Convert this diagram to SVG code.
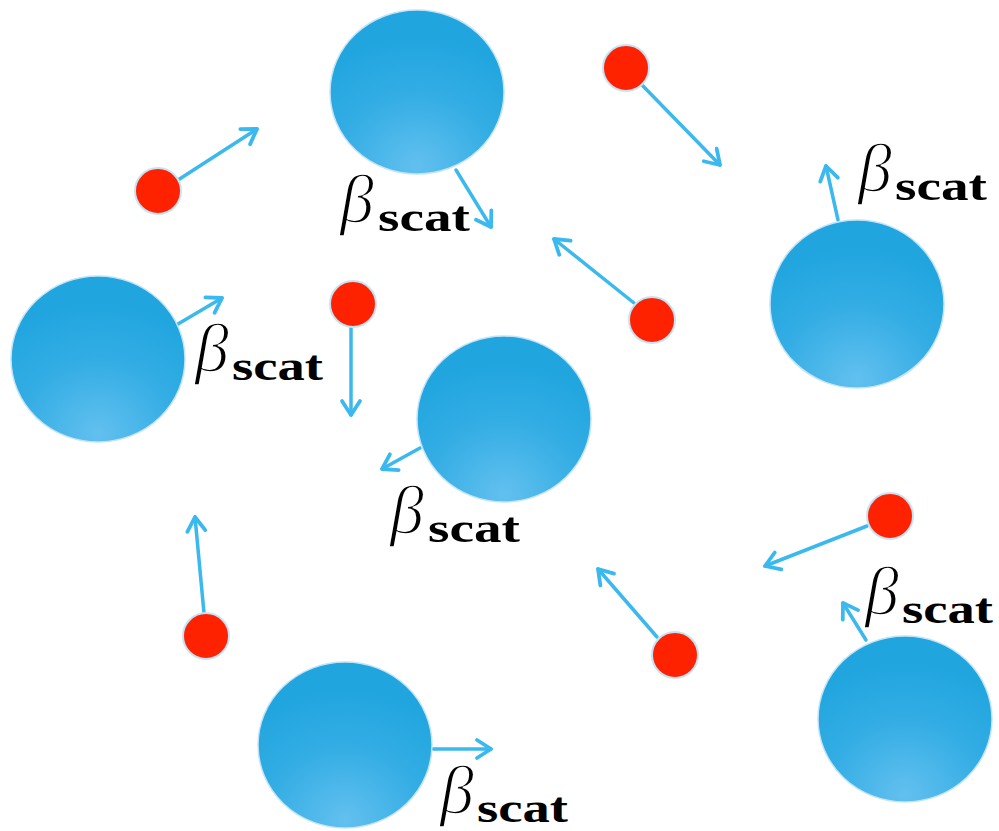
<svg xmlns="http://www.w3.org/2000/svg" width="999" height="831" viewBox="0 0 999 831">
<defs>
<radialGradient id="gb" cx="0.5" cy="1" r="0.85" fx="0.5" fy="0.95">
<stop offset="0" stop-color="#62c0ef"/>
<stop offset="0.55" stop-color="#33ade4"/>
<stop offset="1" stop-color="#20a5df"/>
</radialGradient>
<marker id="ah" markerUnits="userSpaceOnUse" markerWidth="30" markerHeight="30" viewBox="-20 -15 30 30" refX="0" refY="0" orient="auto">
<path d="M-14,-9 L0,0 L-14,9" fill="none" stroke="#3bb9ee" stroke-width="3.8" stroke-linecap="round" stroke-linejoin="round"/>
</marker>
</defs>
<style>
.big{fill:url(#gb);stroke:#c3e4f6;stroke-width:1.5}
.dot{fill:#ff2200;stroke:#c4e3f6;stroke-width:2}
.arr{stroke:#3bb9ee;stroke-width:3.5;fill:none;stroke-linecap:round;marker-end:url(#ah)}
.beta{font-family:"Liberation Serif",serif;font-style:italic;font-size:68px;fill:#000;stroke:#fff;stroke-width:1.6}
.sub{font-family:"Liberation Serif",serif;font-weight:bold;font-size:42px;fill:#000}
</style>
<rect width="999" height="831" fill="#ffffff"/>
<g id="connectors">
<line class="arr" x1="178" y1="180" x2="257" y2="129"/>
<line class="arr" x1="642" y1="85" x2="720" y2="165"/>
<line class="arr" x1="634" y1="303" x2="554" y2="239"/>
<line class="arr" x1="351" y1="327" x2="351" y2="415"/>
<line class="arr" x1="867" y1="526" x2="765" y2="566"/>
<line class="arr" x1="204" y1="613" x2="195" y2="517"/>
<line class="arr" x1="657" y1="637" x2="598" y2="569"/>
<line class="arr" x1="456" y1="170" x2="491" y2="227"/>
<line class="arr" x1="838" y1="220" x2="826" y2="166"/>
<line class="arr" x1="178" y1="324" x2="222" y2="298"/>
<line class="arr" x1="420" y1="448" x2="382" y2="469"/>
<line class="arr" x1="433" y1="749" x2="491" y2="749"/>
<line class="arr" x1="866" y1="640" x2="843" y2="603"/>
</g>
<g id="s1"><ellipse class="big" cx="417" cy="92" rx="87" ry="82"/></g>
<g id="s2"><ellipse class="big" cx="857" cy="304" rx="87" ry="84"/></g>
<g id="s3"><ellipse class="big" cx="98" cy="359" rx="87" ry="83"/></g>
<g id="s4"><ellipse class="big" cx="504" cy="419" rx="87" ry="83"/></g>
<g id="s5"><ellipse class="big" cx="345" cy="745" rx="87" ry="83"/></g>
<g id="s6"><ellipse class="big" cx="905" cy="719" rx="87" ry="83"/></g>
<g id="p1"><circle class="dot" cx="158" cy="191" r="23"/></g>
<g id="p2"><circle class="dot" cx="626" cy="68" r="23"/></g>
<g id="p3"><circle class="dot" cx="652" cy="320" r="23"/></g>
<g id="p4"><circle class="dot" cx="353" cy="304" r="23"/></g>
<g id="p5"><circle class="dot" cx="890" cy="516" r="23"/></g>
<g id="p6"><circle class="dot" cx="206" cy="636" r="23"/></g>
<g id="p7"><circle class="dot" cx="675" cy="655" r="23"/></g>
<g id="l1"><text class="beta" x="340" y="222">β</text><text class="sub" x="378" y="231" textLength="92" lengthAdjust="spacingAndGlyphs">scat</text></g>
<g id="l2"><text class="beta" x="858" y="191">β</text><text class="sub" x="895" y="200" textLength="92" lengthAdjust="spacingAndGlyphs">scat</text></g>
<g id="l3"><text class="beta" x="195" y="371">β</text><text class="sub" x="232" y="380" textLength="91" lengthAdjust="spacingAndGlyphs">scat</text></g>
<g id="l4"><text class="beta" x="390" y="533">β</text><text class="sub" x="428" y="542" textLength="92" lengthAdjust="spacingAndGlyphs">scat</text></g>
<g id="l5"><text class="beta" x="440" y="813">β</text><text class="sub" x="477" y="822" textLength="91" lengthAdjust="spacingAndGlyphs">scat</text></g>
<g id="l6"><text class="beta" x="865" y="614">β</text><text class="sub" x="902" y="623" textLength="91" lengthAdjust="spacingAndGlyphs">scat</text></g>
</svg>
